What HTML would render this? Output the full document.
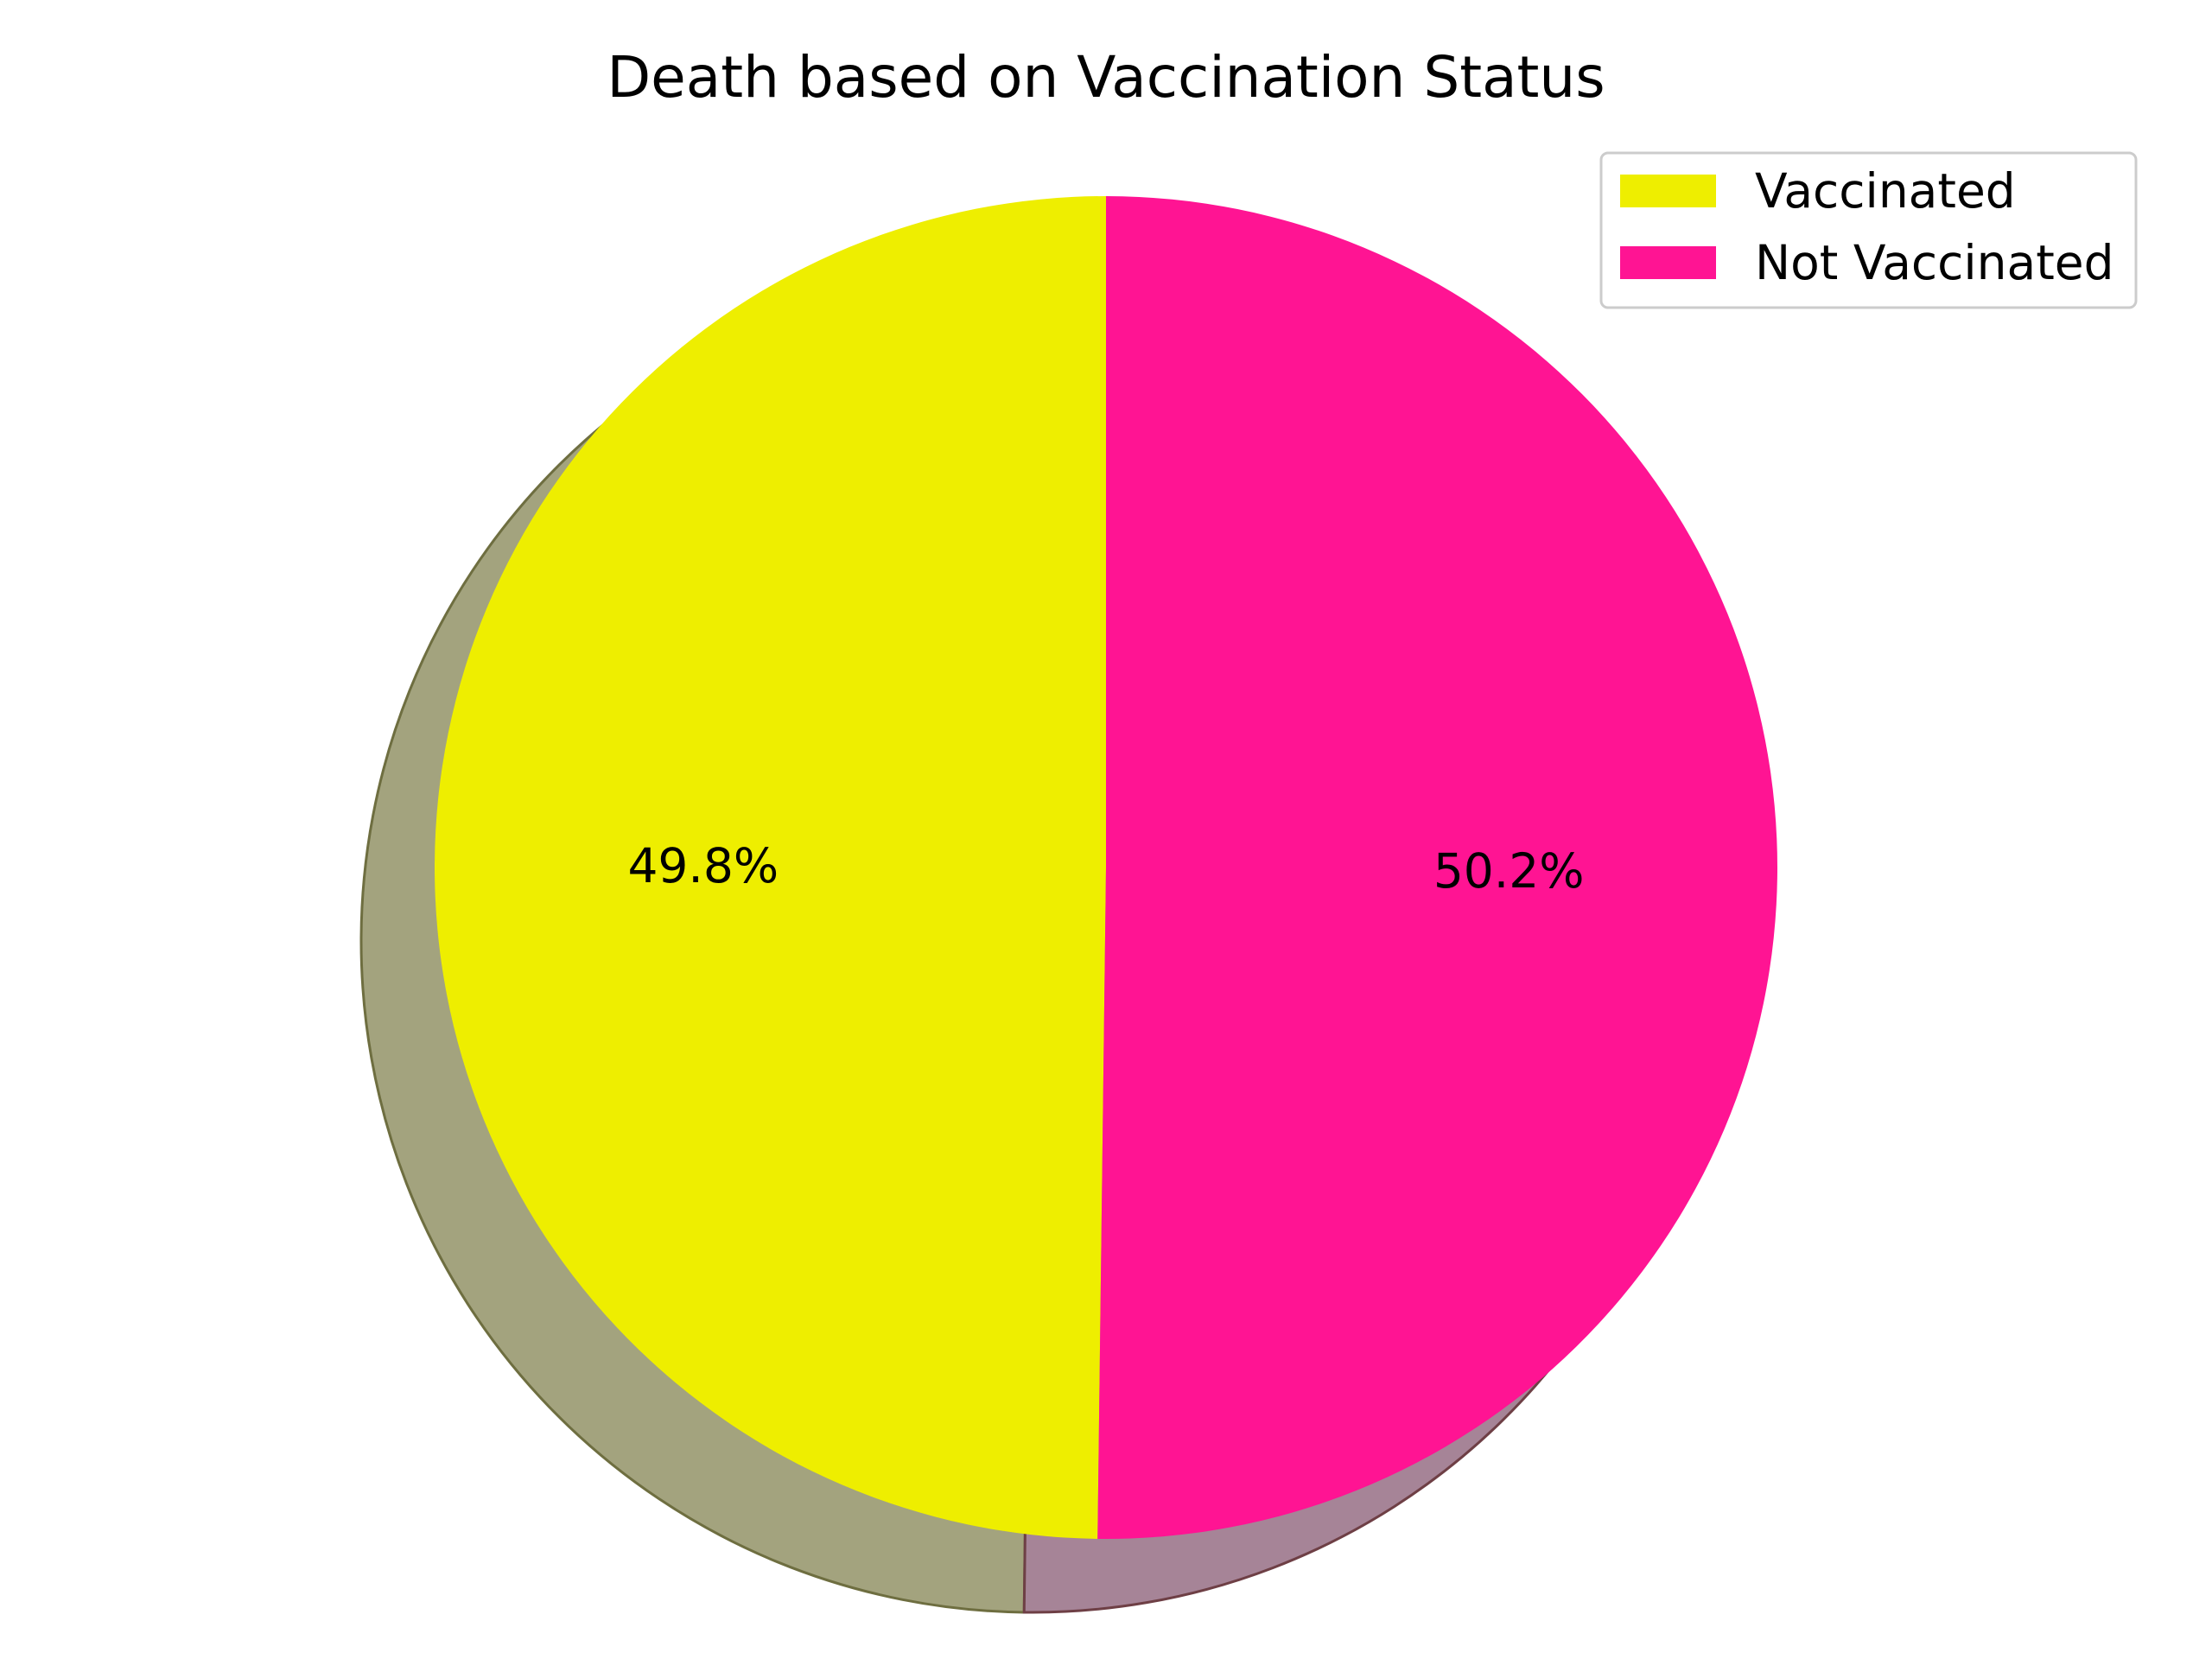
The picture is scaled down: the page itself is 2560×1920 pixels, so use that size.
<!DOCTYPE html>
<html><head><meta charset="utf-8"><style>
html,body{margin:0;padding:0;background:#fff;}
svg{display:block;font-family:"DejaVu Sans","Liberation Sans",sans-serif;}
</style></head><body>
<svg id="chart" width="2560" height="1920" viewBox="0 0 2560 1920">
<rect width="2560" height="1920" fill="#fff"/>
<text x="1280" y="112" font-size="66" text-anchor="middle" fill="#000">Death based on Vaccination Status</text>
<g id="shadows"></g>
<g id="slices"></g>
<g id="labels"></g>
<g>
<rect x="1853" y="177" width="619" height="179" rx="8" fill="#fff" fill-opacity="0.8" stroke="#ccc" stroke-width="3"/>
<g id="legendItems"></g>
</g>
</svg>
<script>
const categories = ["Vaccinated", "Not Vaccinated"];
const values = [49.8, 50.2];
const colors = ["#eeee00", "#ff1493"];
const shadowColors = ["#a3a37e", "#a68497"];

const NS = "http://www.w3.org/2000/svg";
const cx = 1280, cy = 1004, r = 777, sdx = -85, sdy = 85;
const total = values.reduce((a, b) => a + b, 0);
function pt(x0, y0, ang) { return [x0 + r * Math.cos(ang), y0 - r * Math.sin(ang)]; }
function arcPath(x0, y0, a0, a1) {
  const p0 = pt(x0, y0, a0), p1 = pt(x0, y0, a1);
  const large = (a1 - a0) > Math.PI ? 1 : 0;
  return `M${x0},${y0} L${p0[0]},${p0[1]} A${r},${r} 0 ${large} 0 ${p1[0]},${p1[1]} Z`;
}
let a = Math.PI / 2;
const sg = document.getElementById('shadows'), pg = document.getElementById('slices'), lg = document.getElementById('labels');
values.forEach((v, i) => {
  const a1 = a + v / total * 2 * Math.PI;
  const sh = document.createElementNS(NS, 'path');
  sh.setAttribute('d', arcPath(cx + sdx, cy + sdy, a, a1));
  sh.setAttribute('fill', shadowColors[i]);
  sh.setAttribute('stroke', i === 0 ? '#6e6e40' : '#6e3f45');
  sh.setAttribute('stroke-width', '3');
  
  
  sg.appendChild(sh);
  const p = document.createElementNS(NS, 'path');
  p.setAttribute('d', arcPath(cx, cy, a, a1));
  p.setAttribute('fill', colors[i]);
  
  
  pg.appendChild(p);
  const mid = (a + a1) / 2;
  const t = document.createElementNS(NS, 'text');
  t.setAttribute('x', cx + 0.6 * r * Math.cos(mid));
  t.setAttribute('y', cy - 0.6 * r * Math.sin(mid) + 20);
  t.setAttribute('font-size', '55');
  t.setAttribute('text-anchor', 'middle');
  t.textContent = v.toFixed(1) + '%';
  
  
  lg.appendChild(t);
  a = a1;
});
const li = document.getElementById('legendItems');
categories.forEach((c, i) => {
  const y = 202 + i * 83;
  const g = document.createElementNS(NS, 'g');
  
  
  const rc = document.createElementNS(NS, 'rect');
  rc.setAttribute('x', 1875); rc.setAttribute('y', y);
  rc.setAttribute('width', 111); rc.setAttribute('height', 38);
  rc.setAttribute('fill', colors[i]);
  
  
  const t = document.createElementNS(NS, 'text');
  t.setAttribute('x', 2031); t.setAttribute('y', y + 38);
  t.setAttribute('font-size', '55');
  t.textContent = c;
  
  
  g.appendChild(rc); g.appendChild(t); li.appendChild(g);
});
</script>
</body></html>
